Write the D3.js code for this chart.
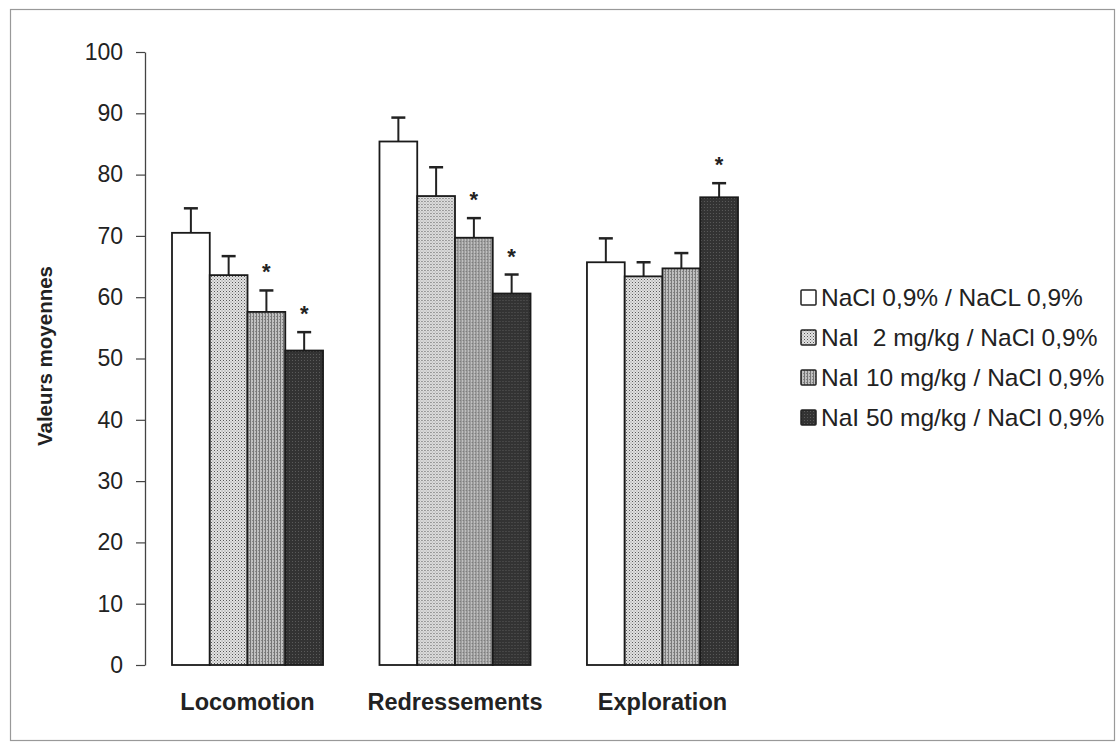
<!DOCTYPE html>
<html><head><meta charset="utf-8">
<script src="https://cdn.jsdelivr.net/npm/d3@7"></script>
<style>body{margin:0;background:#fff}svg{display:block;font-family:Arial,"Liberation Sans",sans-serif}</style>
</head><body><svg id="c" width="1117" height="743"></svg>
<script>
const categories = ["Locomotion", "Redressements", "Exploration"];
const seriesNames = ["NaCl 0,9% / NaCL 0,9%", "NaI  2 mg/kg / NaCl 0,9%", "NaI 10 mg/kg / NaCl 0,9%", "NaI 50 mg/kg / NaCl 0,9%"];
const means = [
  [70.5, 63.6, 57.6, 51.3],
  [85.4, 76.5, 69.7, 60.6],
  [65.7, 63.4, 64.7, 76.3]
];
const errors = [
  [4.0, 3.1, 3.5, 3.0],
  [3.9, 4.7, 3.2, 3.1],
  [3.9, 2.3, 2.5, 2.3]
];
const significant = [
  [false, false, true, true],
  [false, false, true, true],
  [false, false, false, true]
];
const yTicks = [0, 10, 20, 30, 40, 50, 60, 70, 80, 90, 100];

const svg = d3.select("#c");
const defs = svg.append("defs");
// patterns
const p1 = defs.append("pattern").attr("id","pat1").attr("width",3).attr("height",3).attr("patternUnits","userSpaceOnUse");
p1.append("rect").attr("width",3).attr("height",3).attr("fill","#e2e2e2");
p1.append("rect").attr("width",1).attr("height",1).attr("fill","#555");
p1.append("rect").attr("x",1.5).attr("y",1.5).attr("width",1).attr("height",1).attr("fill","#888");
const p2 = defs.append("pattern").attr("id","pat2").attr("width",3).attr("height",3).attr("patternUnits","userSpaceOnUse");
p2.append("rect").attr("width",3).attr("height",3).attr("fill","#c0c0c0");
p2.append("rect").attr("width",1).attr("height",3).attr("fill","#767676");
p2.append("rect").attr("x",2).attr("y",1).attr("width",1).attr("height",1).attr("fill","#858585");
const p3 = defs.append("pattern").attr("id","pat3").attr("width",3).attr("height",3).attr("patternUnits","userSpaceOnUse");
p3.append("rect").attr("width",3).attr("height",3).attr("fill","#333");
p3.append("rect").attr("width",1).attr("height",1).attr("fill","#5a5a5a");
const fills = ["#ffffff", "url(#pat1)", "url(#pat2)", "url(#pat3)"];

// frame
svg.append("rect").attr("x",10.5).attr("y",9.5).attr("width",1104).attr("height",731)
  .attr("fill","none").attr("stroke","#999").attr("stroke-width",1.2);

const y = d3.scaleLinear().domain([0,100]).range([665,52]);
const x0 = d3.scaleBand().domain(categories).range([172,738]).paddingInner(0.272).paddingOuter(0);
const x1 = d3.scaleBand().domain(d3.range(4)).range([0, x0.bandwidth()]);

// y axis
const yAxis = d3.axisLeft(y).tickValues(yTicks).tickSize(9).tickPadding(13).tickSizeOuter(0);
const gy = svg.append("g").attr("transform","translate(145,0)").call(yAxis);
gy.select(".domain").attr("stroke","#444").attr("stroke-width",1.3);
gy.selectAll(".tick line").attr("stroke","#444").attr("stroke-width",1.2);
gy.selectAll(".tick text").attr("font-size",23).attr("fill","#222").attr("font-family","Arial, Liberation Sans, sans-serif");

// y title
svg.append("text").attr("transform","translate(52,356) rotate(-90)").attr("text-anchor","middle")
  .attr("font-size",20.5).attr("font-weight","bold").attr("fill","#222").text("Valeurs moyennes");

// bars
categories.forEach((cat, ci) => {
  const g = svg.append("g").attr("transform",`translate(${x0(cat)},0)`);
  means[ci].forEach((v, si) => {
    const bx = x1(si), bw = x1.bandwidth();
    const cx = bx + bw/2;
    const top = y(v + errors[ci][si]);
    g.append("line").attr("x1",cx).attr("x2",cx).attr("y1",y(v)).attr("y2",top).attr("stroke","#222").attr("stroke-width",2);
    g.append("line").attr("x1",cx-7).attr("x2",cx+7).attr("y1",top).attr("y2",top).attr("stroke","#222").attr("stroke-width",2.5);
    g.append("rect").attr("x",bx).attr("y",y(v)).attr("width",bw).attr("height",y(0)-y(v))
      .attr("fill",fills[si]).attr("stroke","#1a1a1a").attr("stroke-width",1.8);
    if (significant[ci][si]) {
      g.append("text").attr("x",cx).attr("y",top-11).attr("text-anchor","middle")
        .attr("font-size",22).attr("font-weight","bold").attr("fill","#222").text("*");
    }
  });
});

// category labels
svg.append("g").selectAll("text").data(categories).join("text")
  .attr("x", d => x0(d) + x0.bandwidth()/2).attr("y",710).attr("text-anchor","middle")
  .attr("font-size",23.5).attr("font-weight","bold").attr("fill","#222").text(d => d);

// legend
const lg = svg.append("g");
seriesNames.forEach((name, i) => {
  const ly = 297 + i*40;
  lg.append("rect").attr("x",801).attr("y",ly-7).attr("width",15).attr("height",15)
    .attr("fill",fills[i]).attr("stroke","#222").attr("stroke-width",1.5).attr("rx",1);
  lg.append("text").attr("x",821).attr("y",ly+8.5).attr("font-size",24.5).attr("fill","#222")
    .attr("xml:space","preserve").style("white-space","pre").text(name);
});
</script></body></html>
